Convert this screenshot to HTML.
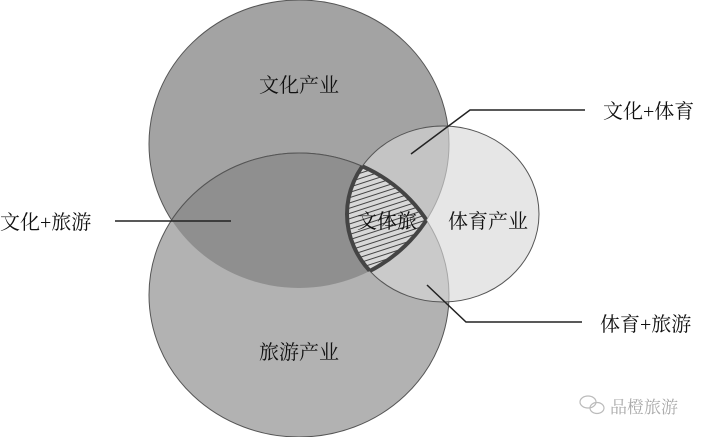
<!DOCTYPE html>
<html><head><meta charset="utf-8"><style>
html,body{margin:0;padding:0;background:#fff;}
svg{display:block;}
text{font-family:"Liberation Serif","Noto Serif CJK SC",serif;fill:#111;}
</style></head><body>
<svg width="702" height="437" viewBox="0 0 702 437" xmlns="http://www.w3.org/2000/svg">
<defs>
<clipPath id="cTop"><ellipse cx="299" cy="144" rx="150" ry="144"/></clipPath>
<clipPath id="cBot"><ellipse cx="299" cy="295" rx="150" ry="142"/></clipPath>
<clipPath id="cR"><ellipse cx="443" cy="214" rx="96" ry="88"/></clipPath>
<pattern id="hatch" patternUnits="userSpaceOnUse" width="8" height="5" patternTransform="rotate(-18)">
<rect width="8" height="5" fill="#d8d8d8"/>
<line x1="0" y1="1" x2="8" y2="1" stroke="#444" stroke-width="1"/>
</pattern>
</defs>
<rect width="702" height="437" fill="#fff"/>
<ellipse cx="299" cy="144" rx="150" ry="144" fill="#a3a3a3" stroke="#555" stroke-width="1"/>
<ellipse cx="299" cy="295" rx="150" ry="142" fill="#b2b2b2" stroke="#555" stroke-width="1"/>
<g clip-path="url(#cTop)"><ellipse cx="299" cy="295" rx="150" ry="142" fill="#8f8f8f" stroke="#555" stroke-width="1"/></g>
<ellipse cx="443" cy="214" rx="96" ry="88" fill="#d8d8d8" fill-opacity="0.63" stroke="#555" stroke-width="1"/>
<g clip-path="url(#cTop)"><g clip-path="url(#cBot)"><g clip-path="url(#cR)">
<rect x="330" y="150" width="110" height="140" fill="url(#hatch)"/>
</g></g></g>
<g clip-path="url(#cTop)"><g clip-path="url(#cBot)"><ellipse cx="443" cy="214" rx="96" ry="88" fill="none" stroke="#444" stroke-width="4"/></g></g>
<g clip-path="url(#cR)"><g clip-path="url(#cBot)"><ellipse cx="299" cy="144" rx="150" ry="144" fill="none" stroke="#444" stroke-width="4"/></g></g>
<g clip-path="url(#cR)"><g clip-path="url(#cTop)"><ellipse cx="299" cy="295" rx="150" ry="142" fill="none" stroke="#444" stroke-width="4"/></g></g>
<g stroke="#222" stroke-width="1.5" fill="none">
<line x1="115" y1="221" x2="231" y2="221"/>
<polyline points="411,154 470,110 585,110"/>
<polyline points="427,285 466,322 582,322"/>
</g>
<g font-size="20">
<text x="299" y="92" text-anchor="middle">文化产业</text>
<text x="299" y="359" text-anchor="middle">旅游产业</text>
<text x="488" y="228" text-anchor="middle">体育产业</text>
<text x="387" y="228" text-anchor="middle">文体旅</text>
<text x="0" y="229">文化+旅游</text>
<text x="603" y="118">文化+体育</text>
<text x="600" y="331">体育+旅游</text>
</g>
<g fill="none" stroke="#bbb" stroke-width="1.2">
<ellipse cx="588" cy="402" rx="8" ry="6"/>
<ellipse cx="597" cy="408" rx="7" ry="5.5"/>
</g>
<text x="610" y="413" font-size="17" style="fill:#aaa">品橙旅游</text>
</svg>
</body></html>
